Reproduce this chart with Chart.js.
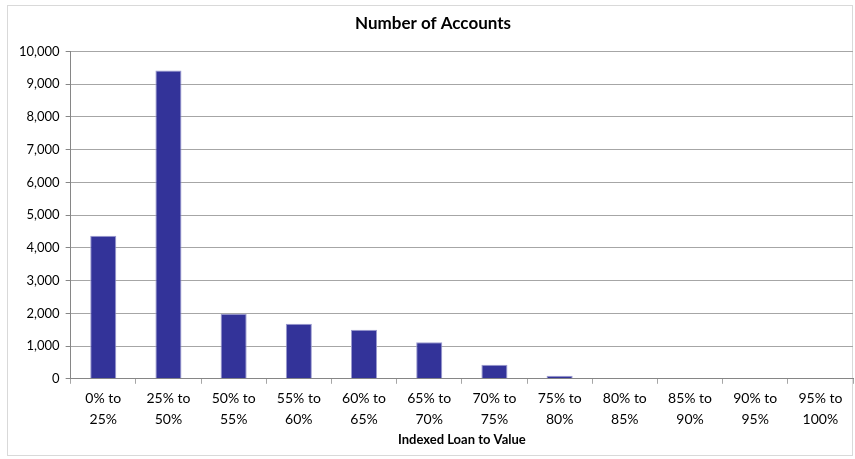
<!DOCTYPE html>
<html>
<head>
<meta charset="utf-8">
<script src="https://cdn.jsdelivr.net/npm/chart.js@4.4.0/dist/chart.umd.min.js"></script>
<style>
    html, body { margin: 0; padding: 0; background: #fff; }
    #wrap { position: absolute; left: 7px; top: 5px; width: 846px; height: 451px; border: 1px solid #d9d9d9; box-sizing: border-box; }
    #chart { position: absolute; left: 0; top: 0; width: 855px; height: 459px; }
</style>
</head>
<body>
<div id="wrap"></div>
<div id="chart"><canvas id="accountsChart"></canvas></div>
<script>
// Chart data
const categories = [
    ['0% to', '25%'], ['25% to', '50%'], ['50% to', '55%'], ['55% to', '60%'],
    ['60% to', '65%'], ['65% to', '70%'], ['70% to', '75%'], ['75% to', '80%'],
    ['80% to', '85%'], ['85% to', '90%'], ['90% to', '95%'], ['95% to', '100%']
];
const accounts = [4370, 9420, 1990, 1680, 1500, 1120, 430, 90, 0, 0, 0, 0];
const yTicks = [0, 1000, 2000, 3000, 4000, 5000, 6000, 7000, 8000, 9000, 10000];

const font = "'Lato', 'Open Sans', sans-serif";

document.addEventListener('DOMContentLoaded', function() {
    const ctx = document.getElementById('accountsChart').getContext('2d');
    new Chart(ctx, {
        type: 'bar',
        data: {
            labels: categories,
            datasets: [{
                label: 'Number of Accounts',
                data: accounts,
                backgroundColor: '#333399',
                borderColor: '#9c9cd0',
                borderWidth: 1,
                categoryPercentage: 1,
                barPercentage: 0.4
            }]
        },
        options: {
            responsive: true,
            maintainAspectRatio: false,
            animation: false,
            layout: { padding: { left: 13, right: 2, top: 4, bottom: 11 } },
            plugins: {
                legend: { display: false },
                tooltip: { enabled: false },
                title: {
                    display: true,
                    text: 'Number of Accounts',
                    color: '#000',
                    font: { family: font, size: 17, weight: 'bold' },
                    padding: { top: 9, bottom: 18 }
                }
            },
            scales: {
                y: {
                    min: 0,
                    max: 10000,
                    afterBuildTicks: function(axis) {
                        axis.ticks = yTicks.map(v => ({ value: v }));
                    },
                    ticks: {
                        color: '#000',
                        padding: 6,
                        font: { family: font, size: 13 },
                        callback: function(value) {
                            return value.toLocaleString('en-US');
                        }
                    },
                    grid: { color: '#a6a6a6', tickLength: 5, tickColor: '#868686' },
                    border: { color: '#868686' }
                },
                x: {
                    ticks: {
                        color: '#000',
                        padding: 5,
                        maxRotation: 0,
                        autoSkip: false,
                        font: { family: font, size: 14, lineHeight: 1.45 }
                    },
                    grid: { drawOnChartArea: false, offset: true, tickLength: 5, tickColor: '#a6a6a6' },
                    border: { color: '#868686' },
                    title: {
                        display: true,
                        text: 'Indexed Loan to Value',
                        color: '#000',
                        font: { family: font, size: 13, weight: 'bold' },
                        padding: { top: -2, bottom: 0 }
                    }
                }
            }
        }
    });
});
</script>
</body>
</html>
